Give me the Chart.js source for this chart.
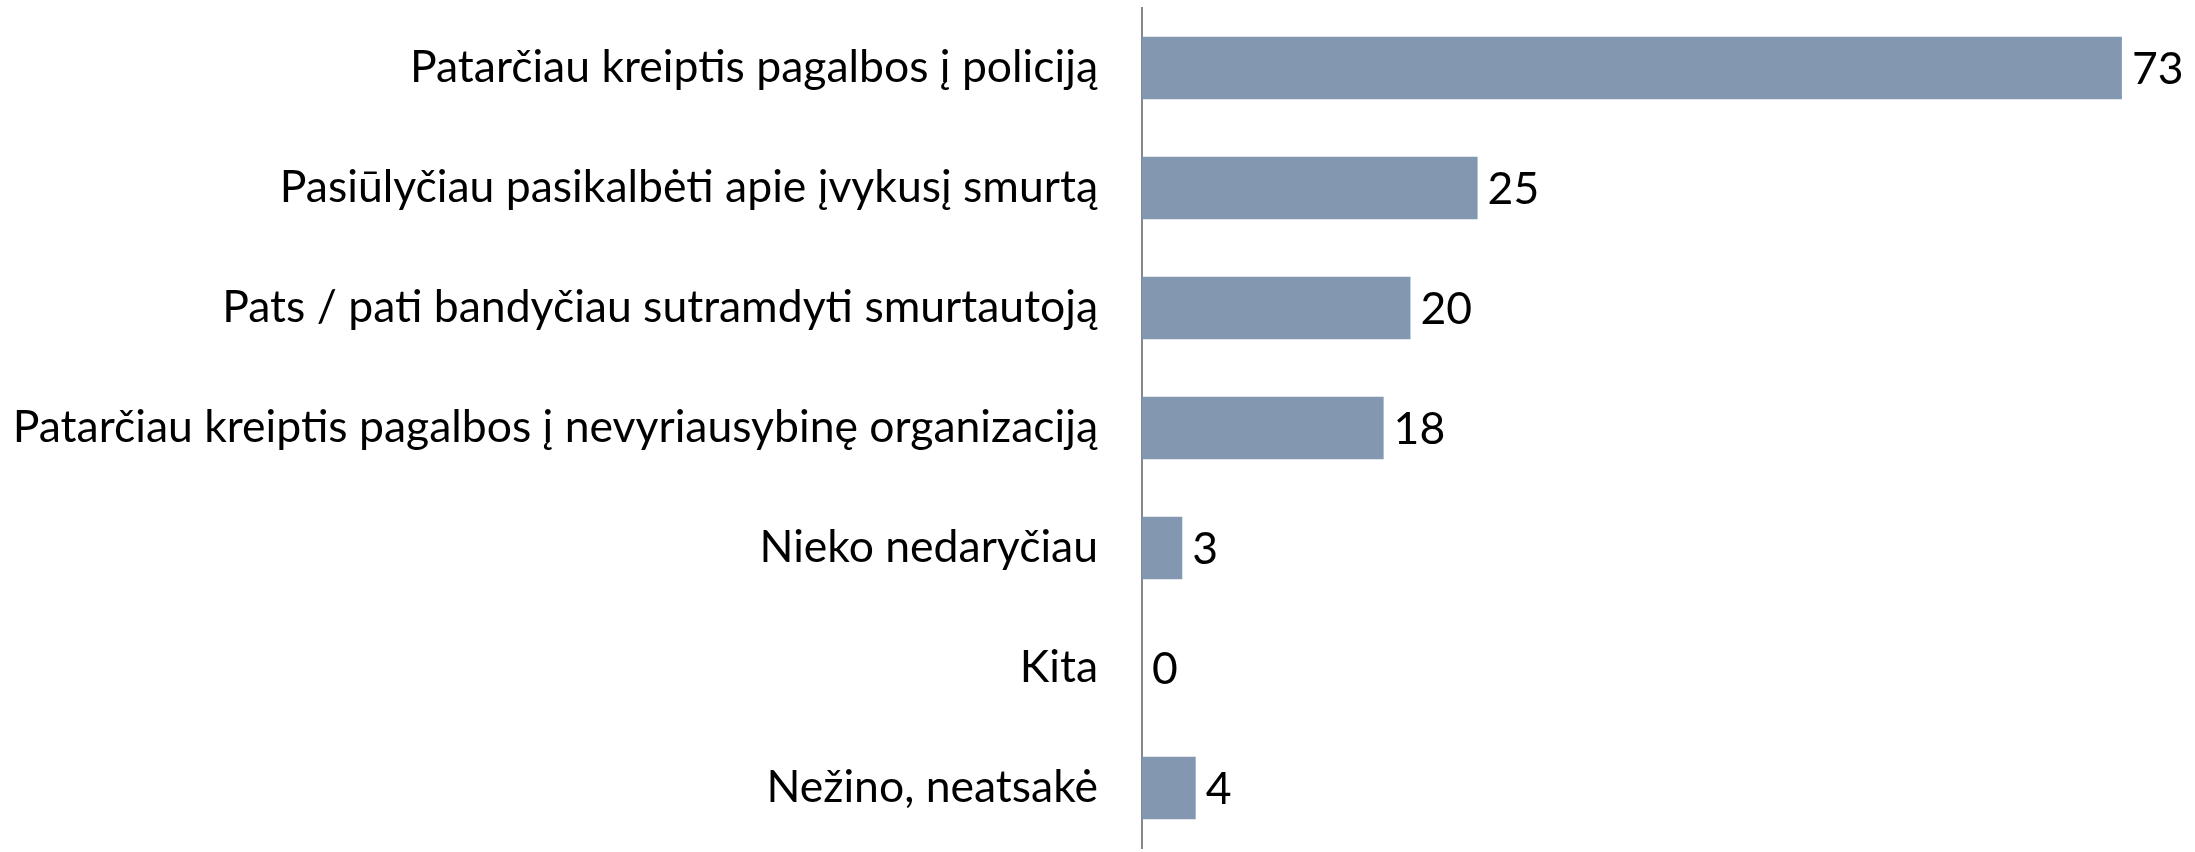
<!DOCTYPE html>
<html>
<head>
<meta charset="utf-8">
<script src="https://cdn.jsdelivr.net/npm/chart.js@4"></script>
<style>
  html, body { margin: 0; padding: 0; background: #fff; }
  #wrap { width: 2195px; height: 852px; }
</style>
</head>
<body>
<div id="wrap"><canvas id="chart" width="2195" height="852"></canvas></div>
<script>
const categories = [
  'Patarčiau kreiptis pagalbos į policiją',
  'Pasiūlyčiau pasikalbėti apie įvykusį smurtą',
  'Pats / pati bandyčiau sutramdyti smurtautoją',
  'Patarčiau kreiptis pagalbos į nevyriausybinę organizaciją',
  'Nieko nedaryčiau',
  'Kita',
  'Nežino, neatsakė'
];
const values = [73, 25, 20, 18, 3, 0, 4];

const FONT = 'Lato, "Open Sans", sans-serif';

// draws the value next to each bar
const valueLabels = {
  id: 'valueLabels',
  afterDatasetsDraw(chart) {
    const ctx = chart.ctx;
    const meta = chart.getDatasetMeta(0);
    ctx.save();
    ctx.fillStyle = '#000';
    ctx.font = '44.5px ' + FONT;
    ctx.textAlign = 'left';
    ctx.textBaseline = 'middle';
    meta.data.forEach((bar, i) => {
      ctx.fillText(String(values[i]), bar.x + 10, bar.y + 2);
    });
    ctx.restore();
  }
};

const ctx = document.getElementById('chart').getContext('2d');
const chart = new Chart(ctx, {
  type: 'bar',
  data: {
    labels: categories,
    datasets: [{
      data: values,
      backgroundColor: '#8497b0',
      borderWidth: 0,
      barPercentage: 0.52,
      categoryPercentage: 1
    }]
  },
  plugins: [valueLabels],
  options: {
    indexAxis: 'y',
    responsive: false,
    animation: false,
    layout: { padding: { top: 8, bottom: 4, right: 6, left: 0 } },
    plugins: {
      legend: { display: false },
      tooltip: { enabled: false }
    },
    scales: {
      x: {
        display: false,
        min: 0,
        max: 78
      },
      y: {
        afterFit(scale) {
          scale.width = 1142;
          // tick padding is only wanted horizontally
          scale.paddingTop = 0;
          scale.paddingBottom = 0;
        },
        grid: { display: false, drawTicks: false },
        border: { display: true, color: '#888888', width: 2 },
        ticks: {
          color: '#000',
          padding: 44,
          font: { family: FONT, size: 44.5 }
        }
      }
    }
  }
});
</script>
</body>
</html>
